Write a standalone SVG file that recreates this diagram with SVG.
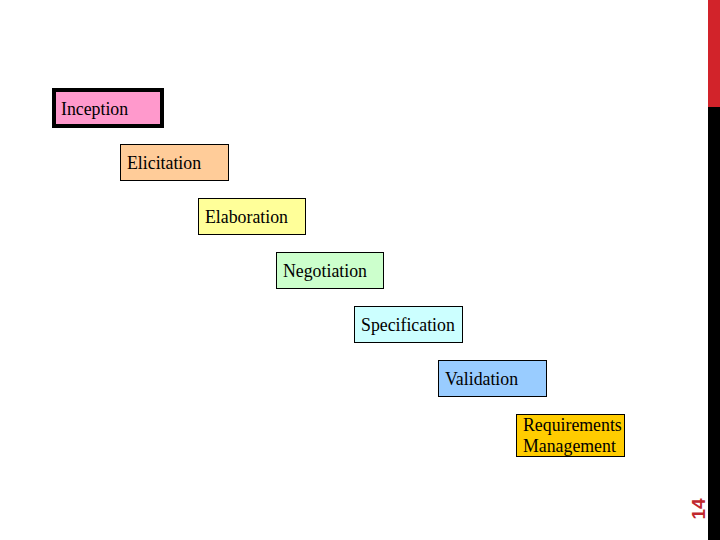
<svg xmlns="http://www.w3.org/2000/svg" width="720" height="540" viewBox="0 0 720 540">
<style>
.box{stroke:#000;stroke-width:1}
.t{font-family:"Liberation Serif","Times New Roman",serif;font-size:17.8px;fill:#000}
</style>
<rect width="720" height="540" fill="#fff"/>
<rect x="708" y="0" width="12" height="107" fill="#d2232a"/>
<rect x="708" y="107" width="12" height="433" fill="#000"/>
<text transform="translate(705,509) rotate(-90)" text-anchor="middle" font-family="Liberation Sans,Arial,sans-serif" font-weight="bold" font-size="19" fill="#c0272d">14</text>
<g id="connectors"></g>
<g id="inception"><rect x="54" y="90" width="108" height="36" fill="#ff99cc" stroke="#000" stroke-width="4"/><text class="t" x="61" y="115">Inception</text></g>
<g id="elicitation"><rect class="box" x="120.5" y="144.5" width="108" height="36" fill="#ffcc99"/><text class="t" x="127" y="169">Elicitation</text></g>
<g id="elaboration"><rect class="box" x="198.5" y="198.5" width="107" height="36" fill="#ffff99"/><text class="t" x="205" y="223">Elaboration</text></g>
<g id="negotiation"><rect class="box" x="276.5" y="252.5" width="107" height="36" fill="#ccffcc"/><text class="t" x="283" y="277">Negotiation</text></g>
<g id="specification"><rect class="box" x="354.5" y="306.5" width="108" height="36" fill="#ccffff"/><text class="t" x="361" y="331">Specification</text></g>
<g id="validation"><rect class="box" x="438.5" y="360.5" width="108" height="36" fill="#99ccff"/><text class="t" x="445" y="385">Validation</text></g>
<g id="requirements-management"><rect class="box" x="516.5" y="414.5" width="108" height="42" fill="#ffcc00"/><text class="t" x="523" y="431">Requirements</text><text class="t" x="523" y="452">Management</text></g>
</svg>
